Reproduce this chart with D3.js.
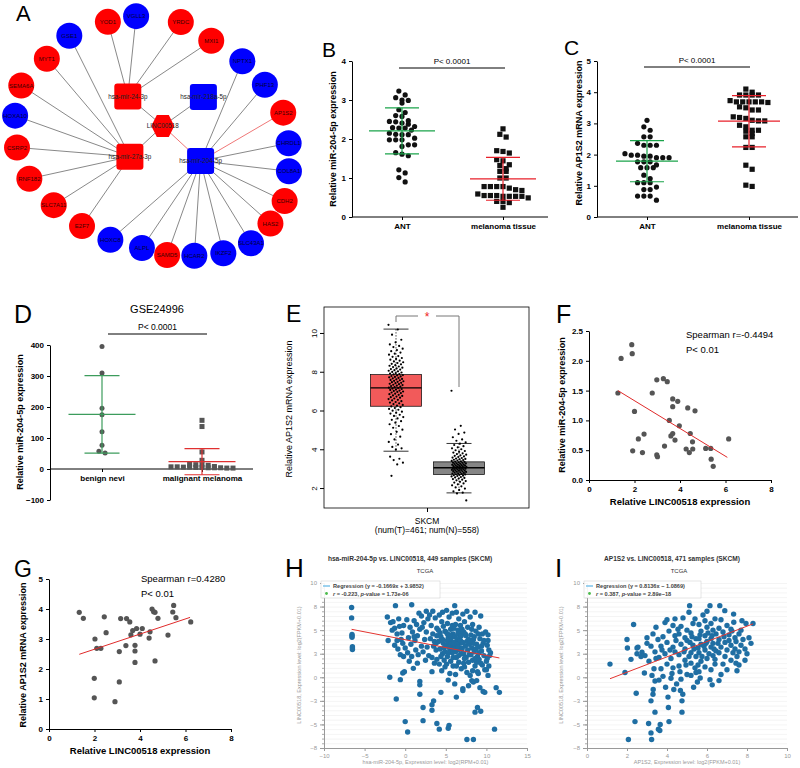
<!DOCTYPE html>
<html><head><meta charset="utf-8">
<script src="https://cdn.jsdelivr.net/npm/d3@7"></script>
<style>body{margin:0;background:#fff}svg{display:block}text{font-family:"Liberation Sans",Arial,sans-serif}</style>
</head><body><svg id="c" width="800" height="768"></svg>
<script>
// ================= DATA =================
// Panel A: ceRNA network
const lncRNA = "LINC00518";
const mirnas = ["hsa-mir-24-3p","hsa-mir-218a-5p","hsa-mir-27a-3p","hsa-mir-204-5p"];
const mirnaRegulation = ["up","down","up","down"];
const targets = ["YOD1","VGLL3","YRDC","MXI1","NPTX1","PHF13","AP1S2","CHRDL1","COL8A1","CDH2","HAS2","SLC43A1","IKZF2","HCAR2","SAMD5","ALPL","HOXC8","E2F7","SLC7A11","RNF182","CSRP2","HOXA10","SEMA6A","MYT1","GSE1"];
const targetRegulation = ["up","down","up","up","down","down","up","down","down","up","up","down","down","down","up","down","down","up","up","up","up","down","up","up","down"];
const targetMiRNA = ["hsa-mir-24-3p","hsa-mir-24-3p","hsa-mir-24-3p","hsa-mir-24-3p",
  "hsa-mir-204-5p","hsa-mir-204-5p","hsa-mir-204-5p","hsa-mir-204-5p","hsa-mir-204-5p","hsa-mir-204-5p","hsa-mir-204-5p","hsa-mir-204-5p","hsa-mir-204-5p","hsa-mir-204-5p","hsa-mir-204-5p","hsa-mir-204-5p","hsa-mir-204-5p",
  "hsa-mir-27a-3p","hsa-mir-27a-3p","hsa-mir-27a-3p","hsa-mir-27a-3p","hsa-mir-27a-3p","hsa-mir-27a-3p","hsa-mir-27a-3p","hsa-mir-27a-3p"];
const highlightedEdges = ["LINC00518|hsa-mir-204-5p","hsa-mir-204-5p|AP1S2"];

// Panel B
const bCats = ["ANT","melanoma tissue"];
const bANT = [3.23,3.13,3.06,3.0,2.92,2.99,2.75,2.68,2.6,2.58,2.45,2.44,2.41,2.38,2.47,2.32,2.29,2.28,2.23,2.28,2.12,2.11,2.15,2.11,2.02,1.98,1.98,1.98,1.85,1.85,1.81,1.65,1.57,1.61,1.21,1.13,1.01,0.9];
const bMel = [2.26,2.12,2.05,1.70,1.64,1.68,1.32,1.44,1.47,1.34,1.17,1.17,1.24,1.0,1.0,0.78,0.74,0.78,0.7,0.68,0.78,0.78,0.55,0.55,0.53,0.49,0.53,0.53,0.53,0.55,0.59,0.40,0.40,0.37,0.25];
const bMean = [2.21,0.98], bSD = [0.59,0.55];
const bTicks = [0,1,2,3,4];

// Panel C
const cCats = ["ANT","melanoma tissue"];
const cANT = [3.1,2.78,2.89,2.57,2.57,2.3,2.3,2.3,2.36,1.98,1.9,1.95,2.03,1.95,1.9,1.9,1.98,1.58,1.58,1.58,1.67,1.77,1.77,1.77,1.1,1.23,1.34,1.1,1.1,0.96,0.88,0.88,0.67,0.67,0.67,0.54];
const cMel = [4.1,4.0,3.91,3.91,3.91,3.91,3.73,3.69,3.69,3.67,3.69,3.69,3.69,3.53,3.5,3.43,3.43,3.21,3.08,3.1,3.08,3.16,3.19,2.94,2.89,2.78,2.78,2.75,2.68,2.57,2.57,2.23,2.23,1.66,1.53,0.98,1.02];
const cMean = [1.79,3.07], cSD = [0.66,0.82];
const cTicks = [0,1,2,3,4,5];

// Panel D
const dCats = ["benign nevi","malignant melanoma"];
const dBenign = [395,310,196,175,120,77,52,57];
const dMalignant = [157,137,55,28,15,14,13,12,8,7,7,6,6,5,5,4,4,4,3,3];
const dMean = [176,23.5], dSD = [125,42];
const dTicks = [-100,0,100,200,300,400];

// Panel E (GEPIA box plot, SKCM)
const eCats = ["Tumor","Normal"];
const eTumorBox = [3.9,6.22,7.17,7.85,10.2];   // low whisker, Q1, median, Q3, high whisker
const eNormalBox = [1.75,2.7,3.05,3.35,4.3];
const eTicks = [2,4,6,8,10];
const eTumor = [10.42,10.18,9.91,9.65,9.52,9.41,9.33,9.27,9.19,9.12,9.06,8.99,8.93,8.88,8.81,8.77,8.71,8.66,8.62,8.57,8.53,8.49,8.45,8.41,8.38,8.34,8.31,8.27,8.24,8.21,8.17,8.14,8.11,8.08,8.05,8.02,7.99,7.96,7.93,7.91,7.88,7.86,7.83,7.81,7.78,7.76,7.73,7.71,7.68,7.66,7.63,7.61,7.58,7.56,7.53,7.51,7.48,7.46,7.43,7.41,7.38,7.36,7.33,7.31,7.28,7.26,7.23,7.21,7.18,7.16,7.13,7.11,7.08,7.06,7.03,7.01,6.98,6.96,6.93,6.9,6.87,6.84,6.81,6.78,6.75,6.72,6.69,6.66,6.62,6.59,6.55,6.52,6.48,6.44,6.41,6.37,6.33,6.29,6.25,6.21,6.17,6.13,6.08,6.04,5.99,5.94,5.89,5.84,5.78,5.72,5.66,5.59,5.52,5.45,5.37,5.29,5.2,5.11,5.01,4.9,4.78,4.65,4.51,4.38,4.24,4.12,4.05,3.98,3.62,3.51,3.44,3.31,3.22,2.63];
const eNormal = [7.02,5.21,5.02,4.86,4.79,4.62,4.51,4.44,4.36,4.29,4.22,4.16,4.1,4.05,4.0,3.95,3.91,3.87,3.83,3.79,3.75,3.72,3.69,3.66,3.63,3.6,3.57,3.55,3.52,3.5,3.48,3.46,3.44,3.42,3.4,3.38,3.36,3.35,3.33,3.31,3.3,3.28,3.27,3.25,3.24,3.22,3.21,3.2,3.18,3.17,3.16,3.14,3.13,3.12,3.11,3.09,3.08,3.07,3.06,3.05,3.04,3.03,3.01,3.0,2.99,2.98,2.97,2.95,2.94,2.93,2.91,2.9,2.89,2.87,2.86,2.84,2.83,2.81,2.8,2.78,2.76,2.75,2.73,2.71,2.7,2.68,2.66,2.64,2.62,2.6,2.57,2.55,2.52,2.49,2.46,2.43,2.4,2.36,2.32,2.28,2.24,2.19,2.14,2.09,2.03,1.97,1.9,1.83,1.76,1.72,1.36];

// Panel F
const fLINC = [1.27,1.41,1.88,1.9,2.0,1.92,2.17,2.42,2.35,2.78,2.98,2.98,3.01,3.27,3.44,3.32,3.68,3.68,3.9,3.53,3.6,3.68,3.78,3.97,4.34,4.66,4.45,4.55,4.27,4.41,4.56,5.13,5.35,5.37,5.46,6.14];
const fMIR = [1.46,2.04,2.27,2.12,1.15,0.49,0.69,0.77,0.46,1.46,1.68,0.42,0.39,1.70,1.65,0.57,1.36,1.23,1.32,1.0,0.74,0.78,0.67,0.91,1.21,1.16,0.78,0.64,0.52,0.46,0.52,0.53,0.53,0.35,0.23,0.69];
const fFit = [[1.27,1.50],[6.08,0.38]];
const fTicksX = [0,2,4,6,8], fTicksY = [0,0.5,1,1.5,2,2.5];

// Panel G
const gLINC = [1.33,1.51,2.02,2.1,2.28,1.99,1.99,2.43,2.51,2.9,3.09,3.09,3.15,3.41,3.55,3.38,3.6,3.68,3.85,4.1,4.0,3.78,3.78,3.78,4.4,4.44,4.66,4.53,4.6,4.66,4.79,5.23,5.44,5.48,5.58,6.23];
const gAP1S2 = [3.89,3.69,3.0,2.69,2.69,1.69,1.04,3.74,3.21,0.91,2.58,1.57,3.68,3.68,3.57,2.78,3.14,3.28,3.35,3.35,3.16,2.79,2.6,2.22,3.03,3.24,2.27,4.0,3.91,3.89,3.69,3.13,3.9,4.12,3.71,3.57];
const gFit = [[1.33,2.49],[6.2,3.72]];
const gTicksX = [0,2,4,6,8], gTicksY = [0,1,2,3,4,5];

// Panel H (TCGA, 449 samples)
const hFit = {slope:-0.1669, intercept:3.9852};
const hPoints = [[-6.6,7.4],[-6.6,6.3],[-6.55,4.55],[-6.55,4.4],[-6.55,4.25],[-6.5,3.25],[-6.5,3.1],[-6.5,2.95],
[-2.2,6.4],[-1.8,5.8],[-1.5,5.9],[-1.2,7.6],[-1.3,5.2],[-2.1,3.9],[-1.3,3.4],[-1.0,4.6],[-0.7,5.4],[-0.5,4.0],[-0.9,3.0],[-0.3,3.6],[-0.6,2.4],[-0.2,2.2],[-1.9,0.0],[-0.6,-0.25],[-0.3,0.45],[-0.1,0.6],[-1.1,-2.3],[0.0,-4.7],[0.3,-5.8],[-1.6,5.0],[-0.8,6.2],[-0.2,5.5],[-0.4,4.7],[-1.0,3.9],
[0.8,7.7],[0.2,6.1],[0.6,5.3],[0.9,4.8],[1.1,6.0],[1.4,5.6],[0.4,4.2],[0.7,3.5],[1.2,3.9],[1.5,4.4],[1.8,5.1],[2.0,6.5],[2.3,5.8],[0.3,2.6],[0.8,2.2],[1.3,2.9],[1.6,2.4],[2.0,3.3],[2.4,4.0],[2.6,4.8],[2.8,6.2],[3.0,6.6],[2.2,2.7],[2.7,3.2],[1.0,0.95],[1.8,-0.45],[1.8,-0.8],[1.8,-1.8],[2.2,-3.2],[2.2,-4.6],[1.5,1.5],[2.5,1.8],[2.9,2.3],[0.5,1.7],[2.1,5.3],[1.7,6.8],[2.6,7.0],[0.0,3.1],[1.1,4.3],
[3.2,5.5],[3.4,4.6],[3.6,3.8],[3.8,2.9],[3.3,2.1],[3.7,6.3],[3.9,5.2],[3.5,3.3],[3.1,4.1],[3.9,4.4],[3.6,1.5],[3.3,0.6],[3.9,1.9],[3.5,-2.5],[3.3,-2.9],[3.3,-3.5],[3.9,-4.9],[3.4,7.0],[3.8,3.6],
[4.2,6.6],[4.5,5.9],[4.1,5.0],[4.4,4.3],[4.7,3.6],[4.3,3.0],[4.6,2.5],[4.9,4.9],[4.8,1.8],[4.2,1.4],[4.5,0.7],[4.9,1.1],[4.4,-1.6],[4.2,-5.5],[4.6,6.9],[4.1,3.8],[4.8,3.1],[4.4,2.2],[4.7,5.4],[4.3,4.7],[4.9,2.7],[4.6,4.0],
[5.1,7.1],[5.4,6.4],[5.2,5.7],[5.6,5.1],[5.9,4.6],[5.3,4.2],[5.7,3.8],[5.1,3.4],[5.5,3.0],[5.8,2.6],[5.2,2.2],[5.6,1.7],[5.9,1.2],[5.5,0.4],[5.3,-0.3],[5.4,-5.1],[5.3,-5.4],[5.8,6.8],[5.0,4.8],[5.4,3.7],[5.7,4.3],[5.2,3.9],[5.9,3.3],[5.6,2.8],[5.3,2.6],[5.8,5.5],[5.1,1.4],[5.5,4.5],[5.9,2.1],[5.2,4.6],[5.6,3.5],[5.4,3.2],
[6.1,7.6],[6.3,6.9],[6.6,6.2],[6.2,5.6],[6.5,5.0],[6.8,4.7],[6.1,4.3],[6.4,4.0],[6.7,3.6],[6.2,3.3],[6.5,2.9],[6.9,2.5],[6.3,2.1],[6.6,1.6],[6.9,0.9],[6.2,0.3],[6.1,-0.7],[6.3,-2.1],[6.0,3.7],[6.4,3.5],[6.7,4.2],[6.9,3.1],[6.2,2.7],[6.5,4.6],[6.8,5.5],[6.0,5.2],[6.6,2.3],[6.3,1.2],[6.8,3.9],[6.1,3.0],[6.5,3.2],[6.9,4.4],
[7.1,6.7],[7.6,7.0],[7.3,5.9],[7.7,5.3],[7.2,4.8],[7.5,4.4],[7.8,4.0],[7.1,3.7],[7.4,3.3],[7.7,2.9],[7.2,2.5],[7.5,2.1],[7.8,1.6],[7.3,1.1],[7.6,0.5],[7.1,-1.2],[7.1,-1.4],[7.6,-6.6],[7.8,-0.9],[7.0,3.0],[7.4,4.6],[7.9,3.5],[7.3,2.0],[7.6,3.8],[7.0,5.1],[7.9,2.4],[7.2,1.5],
[8.0,6.4],[8.6,6.9],[8.3,5.6],[8.7,4.9],[8.1,4.5],[8.4,4.0],[8.8,3.5],[8.2,3.1],[8.5,2.7],[8.9,2.2],[8.3,1.8],[8.6,1.2],[8.9,0.6],[8.0,0.2],[8.2,-0.35],[8.4,-0.5],[8.8,-0.35],[8.4,-6.6],[8.6,-3.7],[8.9,-3.2],[8.1,2.4],[8.7,3.0],[8.4,3.6],[8.0,3.9],[8.5,4.3],[8.2,5.1],[8.8,1.6],[8.3,0.7],[8.6,2.0],
[9.3,6.5],[9.1,5.3],[9.5,4.6],[9.2,4.1],[9.6,3.6],[9.0,3.2],[9.4,2.8],[9.7,2.3],[9.1,1.9],[9.5,1.3],[9.8,0.8],[9.2,-1.1],[9.3,-3.6],[9.6,-1.5],[9.8,-1.6],[9.0,0.4],[9.4,3.3],[9.1,2.6],[9.7,3.9],[9.9,4.8],[9.3,1.5],[9.0,4.6],
[10.0,0.8],[10.2,0.2],[10.2,4.5],[10.2,3.9],[10.3,2.9],[10.4,2.3],[10.1,3.4],[10.0,1.7],[11.0,-5.5],[11.2,-1.1],[11.6,-1.6],[10.5,2.6],[10.1,2.0],[10.3,1.2]];

// Panel I (TCGA, 471 samples)
const iFit = {slope:0.8136, intercept:-1.0869};
const iPoints = [[1.15,1.4],[1.9,0.5],[2.0,4.0],[2.02,3.1],[2.2,1.9],[2.33,5.6],[2.5,3.1],[2.55,3.2],[2.46,-1.7],[2.4,-4.7],[2.07,-6.6],[2.5,2.5],
[2.75,2.65],[2.9,2.3],[2.87,0.46],[3.08,-4.9],[3.2,-5.9],[3.23,-6.6],[3.31,-1.3],[3.2,-2.5],[3.3,-1.8],[3.4,-3.7],[3.0,4.2],[3.2,3.3],[3.4,2.7],[2.7,2.2],[3.1,1.7],[3.35,0.9],[3.45,5.3],[3.3,4.6],[3.0,3.6],[3.45,2.0],[3.4,-0.4],[3.25,0.2],
[3.57,-5.5],[3.66,-5.0],[3.64,-5.65],[4.1,-4.7],[4.07,-3.2],[4.05,-2.1],[3.93,-1.05],[3.6,-0.3],[3.8,0.1],[4.2,-0.1],[3.7,0.9],[4.0,1.4],[4.3,1.0],[3.6,2.1],[3.9,2.5],[4.2,2.0],[4.4,2.7],[3.7,3.3],[4.0,3.7],[4.3,3.2],[3.8,4.3],[4.1,4.9],[4.4,4.4],[3.9,5.8],[4.0,6.1],[4.3,5.5],[4.45,3.9],[3.75,2.9],[4.15,2.9],[4.48,-0.7],[4.34,-1.3],[4.4,6.2],[3.55,4.0],[4.25,0.4],
[4.79,-1.8],[4.75,-2.5],[4.75,-3.7],[4.67,-1.4],[4.7,-0.2],[5.0,0.3],[5.33,-1.05],[5.2,0.2],[4.6,1.2],[4.9,1.8],[5.2,1.5],[5.4,1.0],[4.6,2.4],[4.9,3.0],[5.2,2.6],[5.45,2.2],[4.7,3.5],[5.0,3.9],[5.3,3.4],[4.6,4.6],[4.9,4.2],[5.2,4.7],[5.45,4.1],[4.7,5.4],[5.0,5.0],[5.3,5.7],[4.8,6.3],[5.1,6.9],[5.13,7.6],[5.4,6.2],[4.55,5.1],[5.1,2.2],[5.35,3.0],[4.85,2.7],[5.25,4.3],[4.95,1.3],[5.45,0.5],[4.65,0.6],[5.15,3.7],
[5.52,-0.5],[5.66,-0.07],[6.15,-0.25],[6.26,-0.8],[5.6,0.6],[5.9,1.1],[6.2,0.8],[6.4,1.4],[5.7,1.7],[6.0,2.0],[6.3,2.3],[5.6,2.6],[5.9,2.9],[6.2,3.2],[6.45,2.8],[5.7,3.5],[6.0,3.8],[6.3,3.6],[5.6,4.1],[5.9,4.4],[6.2,4.1],[6.45,4.6],[5.7,4.9],[6.0,5.3],[6.3,5.0],[5.6,5.6],[5.9,6.0],[6.2,5.7],[6.4,6.2],[5.8,6.6],[6.15,7.6],[6.0,7.0],[5.55,3.1],[6.1,2.5],[5.75,2.2],[6.35,3.0],[5.85,3.3],[6.05,4.7],[5.65,4.5],[6.25,4.4],[5.95,3.6],[6.4,1.9],[5.55,1.3],
[6.6,-0.35],[6.64,7.6],[6.89,7.07],[7.33,6.7],[7.34,5.83],[6.7,6.1],[7.0,5.5],[7.2,5.1],[6.6,5.2],[6.8,4.8],[7.1,4.5],[7.4,4.2],[6.6,4.0],[6.9,3.7],[7.2,3.4],[7.45,3.8],[6.7,3.2],[7.0,2.9],[7.3,2.6],[6.6,2.6],[6.9,2.2],[7.2,1.8],[7.45,1.5],[6.8,1.4],[7.0,0.8],[6.7,0.3],[7.5,0.7],[7.5,2.2],[7.1,3.9],[6.85,4.3],[7.25,4.9],[6.55,3.6],[7.4,3.0],
[8.0,2.5],[8.1,4.2],[7.75,6.0],[7.95,5.7],[7.6,4.6],[7.8,4.0],[7.7,3.4],[7.9,3.0],[7.6,2.7],[8.2,3.6],[7.7,5.0],[8.3,5.7],[7.6,1.3],[7.9,1.8]];
const tcgaTicksY = [-7.5,-5,-2.5,0,2.5,5,7.5,10];

// ================= DRAWING =================
const svg = d3.select("#c");
svg.append("rect").attr("width",800).attr("height",768).attr("fill","#fff");
const RED = "#ff0000", BLUE = "#0000ff";

function letter(t, x, y, size){ svg.append("text").attr("x",x).attr("y",y).attr("font-size",size).attr("fill","#000").text(t); }
function vLabel(t, x, cy, size, weight, fill){
  svg.append("text").attr("transform",`translate(${x},${cy}) rotate(-90)`).attr("text-anchor","middle")
    .attr("font-size",size).attr("font-weight",weight||"bold").attr("fill",fill||"#000").text(t);
}
function styleAxis(g, size, weight, color){
  g.selectAll("text").attr("font-size",size).attr("font-weight",weight).attr("fill",color||"#000").attr("font-family",'"Liberation Sans",Arial,sans-serif');
  g.selectAll("line").attr("stroke",color?color:"#000");
  g.select(".domain").attr("stroke",color?color:"#000");
}

// ---------- Panel A ----------
(function(){
  const nx = d3.scaleLinear().domain([-1,1]).range([13,293]);
  const ny = d3.scaleLinear().domain([-1,1]).range([14,260]);
  const ringAngle = [251,263,282,298,316,332,348,363,376,389,400,411,422,433,444,455,470,485,502,519,535,550,564,580,594];
  const ringR = [0.99,0.99,0.955,0.886,0.887,0.905,0.951,0.97,1.01,1.075,1.095,1.112,1.07,1.01,0.965,0.906,0.89,0.884,0.9,0.946,0.975,1.0,1.03,0.99,1.017];
  const mirUnit = {"hsa-mir-24-3p":[-0.18,-0.33],"hsa-mir-218a-5p":[0.36,-0.325],"hsa-mir-27a-3p":[-0.165,0.16],"hsa-mir-204-5p":[0.34,0.195]};
  const lncUnit = [0.07,-0.09];
  const pos = {};
  targets.forEach((t,i)=>{ const a = ringAngle[i]*Math.PI/180; pos[t] = [nx(ringR[i]*Math.cos(a)), ny(ringR[i]*Math.sin(a))]; });
  mirnas.forEach(m=>{ pos[m] = [nx(mirUnit[m][0]), ny(mirUnit[m][1])]; });
  pos[lncRNA] = [nx(lncUnit[0]), ny(lncUnit[1])];
  const edges = [];
  mirnas.forEach(m=>edges.push([lncRNA,m]));
  targets.forEach((t,i)=>edges.push([targetMiRNA[i],t]));
  const g = svg.append("g");
  g.selectAll("line.e").data(edges).join("line")
    .attr("x1",d=>pos[d[0]][0]).attr("y1",d=>pos[d[0]][1]).attr("x2",d=>pos[d[1]][0]).attr("y2",d=>pos[d[1]][1])
    .attr("stroke",d=>highlightedEdges.includes(d[0]+"|"+d[1])?"#e83c3c":"#555").attr("stroke-width",0.7);
  const col = r=>r==="up"?RED:BLUE;
  g.selectAll("circle.t").data(targets).join("circle").attr("cx",d=>pos[d][0]).attr("cy",d=>pos[d][1]).attr("r",13)
    .attr("fill",(d,i)=>col(targetRegulation[i]));
  g.selectAll("rect.m").data(mirnas).join("rect").attr("x",d=>pos[d][0]-13.5).attr("y",d=>pos[d][1]-13).attr("width",27).attr("height",26)
    .attr("rx",3).attr("fill",(d,i)=>col(mirnaRegulation[i]));
  const [hx,hy] = pos[lncRNA];
  const hex = [[-11.5,0],[-6,-11],[6,-11],[11.5,0],[6,11],[-6,11]].map(p=>[hx+p[0],hy+p[1]]);
  g.append("path").attr("d",d3.line()(hex)+"Z").attr("fill",RED);
  g.selectAll("text.t").data(targets).join("text").attr("x",d=>pos[d][0]).attr("y",d=>pos[d][1]+2.2)
    .attr("text-anchor","middle").attr("font-size",6).attr("fill",(d,i)=>targetRegulation[i]==="up"?"#3a0000":"#00003a").text(d=>d);
  g.selectAll("text.m").data(mirnas).join("text").attr("x",d=>pos[d][0]).attr("y",d=>pos[d][1]+2.2)
    .attr("text-anchor","middle").attr("font-size",6.3).attr("fill","#222").text(d=>d);
  g.append("text").attr("x",hx).attr("y",hy+2.2).attr("text-anchor","middle").attr("font-size",6.3).attr("fill","#222").text(lncRNA);
  letter("A",16,21,22);
})();

// ---------- swarm helper ----------
function swarmOffsets(pys, colW, minDy){
  const order = d3.range(pys.length).sort((a,b)=>pys[a]-pys[b]);
  const rows = []; let cur = null;
  order.forEach(i=>{ if(!cur || pys[i]-cur.start >= minDy){ cur = {start:pys[i], items:[]}; rows.push(cur);} cur.items.push(i); });
  const off = [];
  rows.forEach(r=>{ const n=r.items.length; r.items.forEach((i,j)=>{ off[i] = (j-(n-1)/2)*colW; }); });
  return off;
}

// ---------- dot plots B, C, D ----------
function dotPlot(o){
  const y = d3.scaleLinear().domain(o.yDomain).range(o.yRange);
  const x = d3.scalePoint().domain(o.cats).range(o.catRange);
  const g = svg.append("g");
  const ya = g.append("g").attr("transform",`translate(${o.axisX},0)`)
    .call(d3.axisLeft(y).tickValues(o.yTicks).tickSize(3).tickSizeOuter(0).tickFormat(o.fmt||d3.format("d")));
  styleAxis(ya, o.tickFont||8, "bold");
  const xa = g.append("g").attr("transform",`translate(0,${y(o.xAt)})`).call(d3.axisBottom(x).tickSize(3).tickSizeOuter(0));
  xa.select(".domain").attr("d",`M${o.axisX},0H${o.axisEnd}`);
  styleAxis(xa, 8, "bold");
  o.groups.forEach((grp,gi)=>{
    const cx = x(o.cats[gi]);
    const pys = grp.vals.map(v=>y(v));
    const off = swarmOffsets(pys, o.colW, o.minDy);
    if(grp.shape==="circle"){
      g.selectAll(null).data(grp.vals).join("circle").attr("cx",(d,i)=>cx+off[i]).attr("cy",d=>y(d)).attr("r",o.r).attr("fill",o.pointColor);
    } else {
      g.selectAll(null).data(grp.vals).join("rect").attr("x",(d,i)=>cx+off[i]-o.r).attr("y",d=>y(d)-o.r)
        .attr("width",o.r*2).attr("height",o.r*2).attr("fill",o.pointColor);
    }
    const m = o.means[gi], s = o.sds[gi];
    const lg = g.append("g").attr("stroke",grp.line).attr("stroke-width",1.2);
    lg.append("line").attr("x1",cx-o.meanW/2).attr("x2",cx+o.meanW/2).attr("y1",y(m)).attr("y2",y(m));
    lg.append("line").attr("x1",cx).attr("x2",cx).attr("y1",y(m-s)).attr("y2",y(m+s));
    [m-s,m+s].forEach(v=>lg.append("line").attr("x1",cx-o.capW/2).attr("x2",cx+o.capW/2).attr("y1",y(v)).attr("y2",y(v)));
  });
  // significance bar
  g.append("line").attr("x1",o.pBar[0]).attr("x2",o.pBar[1]).attr("y1",o.pBar[2]).attr("y2",o.pBar[2]).attr("stroke","#000").attr("stroke-width",1);
  g.append("text").attr("x",(o.pBar[0]+o.pBar[1])/2).attr("y",o.pBar[2]-4).attr("text-anchor","middle").attr("font-size",o.pFont||8).text("P\u003c 0.0001");
  return {x,y};
}

dotPlot({cats:bCats, yDomain:[0,4], yRange:[217,61], catRange:[402,503], axisX:352, axisEnd:548, xAt:0, yTicks:bTicks,
  groups:[{vals:bANT,shape:"circle",line:"#1aa34a"},{vals:bMel,shape:"square",line:"#e8202a"}],
  means:bMean, sds:bSD, colW:6.3, minDy:5.4, r:2.6, pointColor:"#111", meanW:66, capW:34, pBar:[399,505,68]});
letter("B",322,57,21);
vLabel("Relative miR-204-5p expression",336,139,9);

dotPlot({cats:cCats, yDomain:[0,5], yRange:[217,61], catRange:[647,749], axisX:597, axisEnd:798, xAt:0, yTicks:cTicks,
  groups:[{vals:cANT,shape:"circle",line:"#1aa34a"},{vals:cMel,shape:"square",line:"#e8202a"}],
  means:cMean, sds:cSD, colW:6.3, minDy:5.4, r:2.6, pointColor:"#111", meanW:62, capW:34, pBar:[644,750,67]});
letter("C",564,55,21);
vLabel("Relative AP1S2 mRNA expression",582,133,9);

dotPlot({cats:dCats, yDomain:[-100,400], yRange:[500,345], catRange:[102,202], axisX:50, axisEnd:253, xAt:0, yTicks:dTicks,
  groups:[{vals:dBenign,shape:"circle",line:"#3c9c5c"},{vals:dMalignant,shape:"square",line:"#e03030"}],
  means:dMean, sds:dSD, colW:6.2, minDy:2.2, r:2.5, pointColor:"#555", meanW:67, capW:35, pBar:[108,207,334], pFont:8.5});
letter("D",14,323,25);
svg.append("text").attr("x",157).attr("y",313).attr("text-anchor","middle").attr("font-size",11).text("GSE24996");
vLabel("Relative miR-204-5p expression",23,422,9);

// ---------- Panel E ----------
(function(){
  const y = d3.scaleLinear().domain([0.97,11.34]).range([508,307]);
  const x = d3.scalePoint().domain(eCats).range([396,459]);
  const g = svg.append("g");
  g.append("rect").attr("x",324).attr("y",307).attr("width",205).attr("height",201).attr("fill","none").attr("stroke","#000").attr("stroke-width",0.8);
  const ya = g.append("g").attr("transform","translate(324,0)").call(d3.axisLeft(y).tickValues(eTicks).tickSize(4).tickSizeOuter(0));
  ya.select(".domain").remove();
  ya.selectAll("text").attr("transform","rotate(-90)").attr("x",0).attr("y",-7).attr("dy",0).attr("text-anchor","middle");
  styleAxis(ya, 8, "normal");
  const xs = d3.scalePoint().domain(["SKCM"]).range([427,427]);
  const xa = g.append("g").attr("transform","translate(0,508)").call(d3.axisBottom(xs).tickSize(4).tickFormat(""));
  xa.select(".domain").remove(); styleAxis(xa,8,"normal");
  g.append("text").attr("x",427).attr("y",524).attr("text-anchor","middle").attr("font-size",8.5).text("SKCM");
  g.append("text").attr("x",427).attr("y",533).attr("text-anchor","middle").attr("font-size",8.5).text("(num(T)=461; num(N)=558)");
  const boxes = [{s:eTumorBox, vals:eTumor, fill:"#f25a5a"},{s:eNormalBox, vals:eNormal, fill:"#858585"}];
  boxes.forEach((b,bi)=>{
    const cx = x(eCats[bi]);
    const [lo,q1,md,q3,hi] = b.s;
    g.append("line").attr("x1",cx).attr("x2",cx).attr("y1",y(hi)).attr("y2",y(q3)).attr("stroke","#000").attr("stroke-width",0.7).attr("stroke-dasharray","1.5,1.5");
    g.append("line").attr("x1",cx).attr("x2",cx).attr("y1",y(q1)).attr("y2",y(lo)).attr("stroke","#000").attr("stroke-width",0.7).attr("stroke-dasharray","1.5,1.5");
    [lo,hi].forEach(v=>g.append("line").attr("x1",cx-12.5).attr("x2",cx+12.5).attr("y1",y(v)).attr("y2",y(v)).attr("stroke","#000").attr("stroke-width",0.8));
    g.append("rect").attr("x",cx-25.5).attr("y",y(q3)).attr("width",51).attr("height",y(q1)-y(q3)).attr("fill",b.fill).attr("stroke","#000").attr("stroke-width",0.7);
    g.selectAll(null).data(b.vals).join("circle")
      .attr("cx",(d,i)=>cx+(((i*0.6180339887)%1)-0.5)*15).attr("cy",d=>y(d)).attr("r",1.1).attr("fill","#000");
    g.append("line").attr("x1",cx-25.5).attr("x2",cx+25.5).attr("y1",y(md)).attr("y2",y(md)).attr("stroke","#000").attr("stroke-width",1.4);
  });
  // significance bracket
  const bt = 316;
  const br = g.append("g").attr("stroke","#777").attr("stroke-width",1).attr("fill","none");
  br.append("path").attr("d",`M${x("Tumor")},322V${bt}H418`);
  br.append("path").attr("d",`M436,${bt}H${x("Normal")}V387`);
  g.append("text").attr("x",427).attr("y",321).attr("text-anchor","middle").attr("font-size",12).attr("fill","#ee2222").text("*");
  letter("E",286,322,23);
  vLabel("Relative AP1S2 mRNA expression",292,409,9,"normal");
})();

// ---------- correlation panels F, G ----------
function corrPlot(o){
  const x = d3.scaleLinear().domain([0,8]).range(o.xRange);
  const y = d3.scaleLinear().domain(o.yDomain).range(o.yRange);
  const g = svg.append("g");
  const ya = g.append("g").attr("transform",`translate(${o.xRange[0]},0)`).call(d3.axisLeft(y).tickValues(o.yTicks).tickSize(3).tickSizeOuter(0).tickFormat(o.fmt));
  styleAxis(ya,8,"bold");
  const xa = g.append("g").attr("transform",`translate(0,${o.yRange[0]})`).call(d3.axisBottom(x).tickValues(o.xTicks).tickSize(3).tickSizeOuter(0).tickFormat(d3.format("d")));
  styleAxis(xa,8,"bold");
  g.selectAll(null).data(o.xs).join("circle").attr("cx",d=>x(d)).attr("cy",(d,i)=>y(o.ys[i])).attr("r",2.6).attr("fill","#555");
  g.append("line").attr("x1",x(o.fit[0][0])).attr("y1",y(o.fit[0][1])).attr("x2",x(o.fit[1][0])).attr("y2",y(o.fit[1][1])).attr("stroke","#e02a2a").attr("stroke-width",1);
  g.append("text").attr("x",o.txt[0]).attr("y",o.txt[1]).attr("font-size",9.5).text(o.label);
  g.append("text").attr("x",o.txt[0]).attr("y",o.txt[1]+15).attr("font-size",9.5).text("P\u003c 0.01");
  g.append("text").attr("x",(o.xRange[0]+o.xRange[1])/2).attr("y",o.yRange[0]+25).attr("text-anchor","middle").attr("font-size",9.5).attr("font-weight","bold").text("Relative LINC00518 expression");
}
corrPlot({xRange:[589,771], yDomain:[0,2.5], yRange:[480,331], xs:fLINC, ys:fMIR, fit:fFit, xTicks:fTicksX, yTicks:fTicksY, fmt:d3.format(".1f"), txt:[686,338], label:"Spearman r=-0.4494"});
letter("F",556,323,25);
vLabel("Relative miR-204-5p expression",565,405,9);
corrPlot({xRange:[49,231], yDomain:[0,5], yRange:[729,579], xs:gLINC, ys:gAP1S2, fit:gFit, xTicks:gTicksX, yTicks:gTicksY, fmt:d3.format("d"), txt:[141,582], label:"Spearman r=0.4280"});
letter("G",14,577,23);
vLabel("Relative AP1S2 mRNA expression",26,655,9);

// ---------- TCGA panels H, I ----------
function tcga(o){
  const x = d3.scaleLinear().domain(o.xDomain).range(o.xRange);
  const y = d3.scaleLinear().domain([-7.5,10]).range([748,583]);
  const g = svg.append("g");
  const W = o.xRange[1]-o.xRange[0];
  const grid = g.append("g").attr("transform",`translate(${o.xRange[0]},0)`)
    .call(d3.axisLeft(y).tickValues(d3.range(-7.5,10.01,0.5)).tickSize(-W).tickFormat(""));
  grid.select(".domain").remove();
  grid.selectAll("line").attr("stroke","#ececec").attr("stroke-width",0.6);
  const minor = g.append("g").attr("transform",`translate(${o.xRange[0]},0)`)
    .call(d3.axisLeft(y).tickValues(d3.range(-7.5,10.01,0.5)).tickSize(2).tickFormat(""));
  styleAxis(minor,6,"normal","#aaa");
  const ya = g.append("g").attr("transform",`translate(${o.xRange[0]},0)`).call(d3.axisLeft(y).tickValues(tcgaTicksY).tickSize(4).tickSizeOuter(0));
  styleAxis(ya,6,"normal","#999");
  const xa = g.append("g").attr("transform","translate(0,748)").call(d3.axisBottom(x).tickValues(o.xTicks).tickSize(3).tickSizeOuter(0));
  styleAxis(xa,6,"normal","#999");
  g.selectAll(null).data(o.pts).join("circle").attr("cx",d=>x(d[0])).attr("cy",d=>y(d[1])).attr("r",2.7).attr("fill","#1f6ea3");
  const ex = d3.extent(o.pts,d=>d[0]);
  g.append("line").attr("x1",x(ex[0])).attr("y1",y(o.fit.slope*ex[0]+o.fit.intercept)).attr("x2",x(ex[1])).attr("y2",y(o.fit.slope*ex[1]+o.fit.intercept))
    .attr("stroke","#e3342f").attr("stroke-width",1);
  // legend
  const lx = o.xRange[0]-3, ly = 581;
  g.append("rect").attr("x",lx).attr("y",ly).attr("width",o.legW).attr("height",17).attr("fill","#fff").attr("fill-opacity",0.9).attr("stroke","#ccc").attr("stroke-width",0.5);
  g.append("line").attr("x1",lx+2).attr("x2",lx+9).attr("y1",ly+5).attr("y2",ly+5).attr("stroke","#7cc3ea").attr("stroke-width",1.5);
  g.append("text").attr("x",lx+12).attr("y",ly+7).attr("font-size",5.6).attr("font-weight","bold").attr("fill","#444").text(o.reg);
  g.append("circle").attr("cx",lx+5.5).attr("cy",ly+12.5).attr("r",1.4).attr("fill","#4cbb4c");
  const t2 = g.append("text").attr("x",lx+12).attr("y",ly+14.5).attr("font-size",5.6).attr("font-weight","bold").attr("fill","#444");
  t2.append("tspan").attr("font-style","italic").text("r");
  t2.append("tspan").text(" = "+o.r+", ");
  t2.append("tspan").attr("font-style","italic").text("p");
  t2.append("tspan").text("-value = "+o.p);
  g.append("text").attr("x",o.titleX).attr("y",561).attr("text-anchor","middle").attr("font-size",6.6).attr("font-weight","bold").attr("fill","#333").text(o.title);
  g.append("text").attr("x",o.tcgaX).attr("y",573).attr("text-anchor","middle").attr("font-size",6).attr("fill","#333").text("TCGA");
  svg.append("text").attr("transform",`translate(${o.yLabX},665) rotate(-90)`).attr("text-anchor","middle").attr("font-size",5.5).attr("fill","#999").text("LINC00518, Expression level: log2(FPKM+0.01)");
  g.append("text").attr("x",(o.xRange[0]+o.xRange[1])/2).attr("y",764).attr("text-anchor","middle").attr("font-size",5.5).attr("fill","#999").text(o.xLab);
}
tcga({xDomain:[-10,15], xRange:[324,527], xTicks:[-10,-5,0,5,10,15], pts:hPoints, fit:hFit, legW:119,
  reg:"Regression (y = -0.1669x + 3.9852)", r:"-0.223", p:"1.73e-06",
  title:"hsa-miR-204-5p vs. LINC00518, 449 samples (SKCM)", titleX:410, tcgaX:425, yLabX:301,
  xLab:"hsa-miR-204-5p, Expression level: log2(RPM+0.01)"});
letter("H",285,577,26);
tcga({xDomain:[0,10], xRange:[587,787], xTicks:[0,2,4,6,8,10], pts:iPoints, fit:iFit, legW:117,
  reg:"Regression (y = 0.8136x \u2212 1.0869)", r:"0.387", p:"2.89e\u221218",
  title:"AP1S2 vs. LINC00518, 471 samples (SKCM)", titleX:672, tcgaX:679, yLabX:563,
  xLab:"AP1S2, Expression level: log2(FPKM+0.01)"});
letter("I",555,577,26);
</script></body></html>
